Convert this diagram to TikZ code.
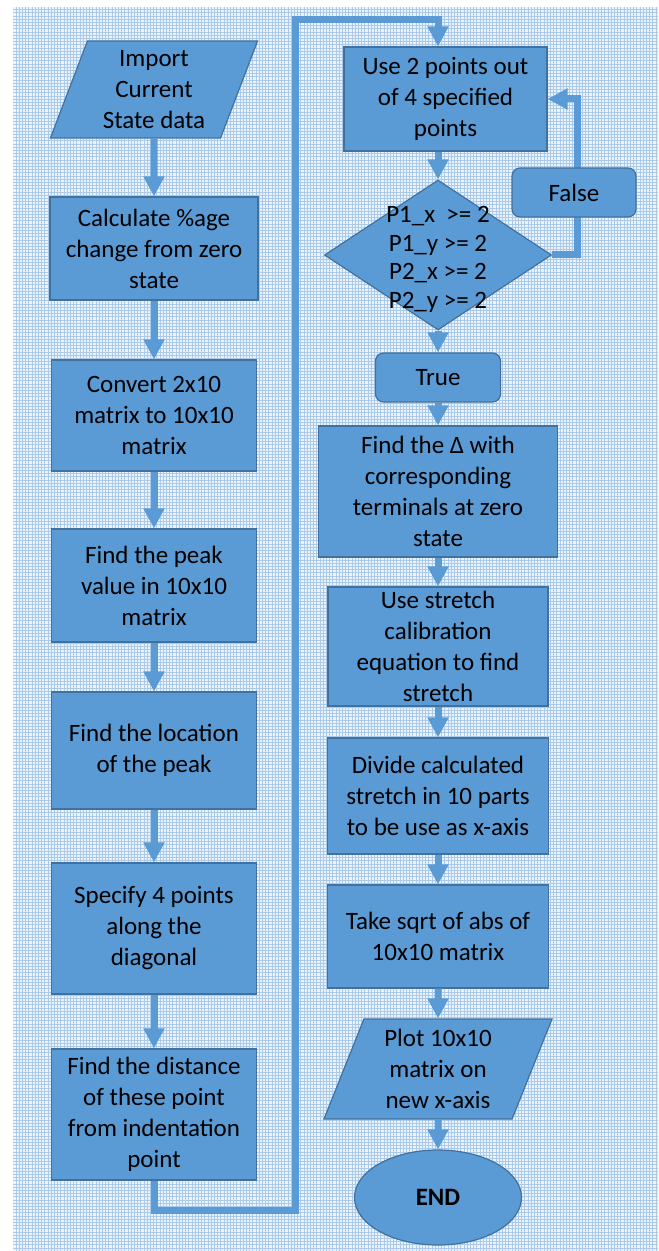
\documentclass[tikz,border=0pt]{standalone}
\usepackage{xcolor}
\usepackage{fontspec}
\setmainfont{Carlito}
\usepackage{tikz}
\usetikzlibrary{shapes.geometric,arrows.meta}

\definecolor{boxblue}{RGB}{91,155,213}
\definecolor{edgeblue}{RGB}{65,113,156}
\definecolor{gridblue}{RGB}{170,202,235}
\definecolor{paperblue}{RGB}{236,243,251}

\begin{document}
\begin{tikzpicture}[x=0.5pt,y=-0.5pt,
							every node/.style={fill=boxblue,draw=edgeblue,line width=0.6pt,inner sep=0pt,align=center,font=\fontsize{12.5}{15.5}\selectfont},
							process/.style={rectangle},
							inout/.style={trapezium,trapezium left angle=70,trapezium right angle=110,trapezium stretches=true},
							decision/.style={diamond},
							answer/.style={rectangle,rounded corners=4pt},
							stop/.style={ellipse},
							conn/.style={draw=boxblue,line width=3.5pt,-{Triangle[width=10pt,length=10pt]}}]
			\useasboundingbox (0,0) rectangle (658,1251);
			\fill[paperblue] (13,7) rectangle (658,1251);
			\draw[gridblue,line width=0.4pt,step=1.6pt] (13,1251) grid (658,7);
			\node[inout,minimum width=104pt,minimum height=48.5pt] (imp) at (154,89.5) {Import\\Current\\State data};
			\node[process,minimum width=104pt,minimum height=51.5pt] (calc) at (154,248.5) {Calculate \%age\\change from zero\\state};
			\node[process,minimum width=102.5pt,minimum height=55.5pt] (conv) at (154,415.5) {Convert 2x10\\matrix to 10x10\\matrix};
			\node[process,minimum width=102.5pt,minimum height=56.5pt] (peak) at (154,585.5) {Find the peak\\value in 10x10\\matrix};
			\node[process,minimum width=102.5pt,minimum height=58.5pt] (loc) at (154,750.5) {Find the location\\of the peak};
			\node[process,minimum width=102.5pt,minimum height=65.5pt] (spec) at (154,928.5) {Specify 4 points\\along the\\diagonal};
			\node[process,minimum width=102.5pt,minimum height=65.5pt] (dist) at (154,1114.5) {Find the distance\\of these point\\from indentation\\point};
			\node[process,minimum width=101.5pt,minimum height=52pt] (use2) at (445.5,99) {Use 2 points out\\of 4 specified\\points};
			\node[decision,minimum width=113.5pt,minimum height=75pt] (cond) at (438,255) {\smash{\raisebox{-5.5pt}{\makebox[0pt]{\fontsize{12.5}{14.25}\selectfont\begin{tabular}{@{}c@{}}P1\_x\ \ >= 2\\P1\_y >= 2\\P2\_x >= 2\\P2\_y >= 2\end{tabular}}}}};
			\coordinate (lowleft) at (154,1210);
			\coordinate (topbend) at (295,20);
			\draw[conn] (cond.east) -- ++(25,0) |- (use2.east);
			\node[answer,minimum width=62pt,minimum height=24.5pt] (false) at (574,192.5) {False};
			\node[answer,minimum width=62.5pt,minimum height=24.5pt] (true) at (438,377.5) {True};
			\node[process,minimum width=119.5pt,minimum height=65.5pt] (delta) at (438,491.5) {Find the Δ with\\corresponding\\terminals at zero\\state};
			\node[process,minimum width=110pt,minimum height=59.5pt] (stretch) at (438,646.5) {Use stretch\\calibration\\equation to find\\stretch};
			\node[process,minimum width=110.5pt,minimum height=58pt] (divide) at (438,796) {Divide calculated\\stretch in 10 parts\\to be use as x-axis};
			\node[process,minimum width=110.5pt,minimum height=51.5pt] (sqrt) at (438,936.5) {Take sqrt of abs of\\10x10 matrix};
			\node[inout,minimum width=114pt,minimum height=50pt] (plot) at (438,1069) {Plot 10x10\\matrix on\\new x-axis};
			\node[stop,minimum width=83.5pt,minimum height=47.5pt] (endn) at (438,1197.5) {\textbf{END}};
			\foreach \a/\b in {imp/calc,calc/conv,conv/peak,peak/loc,loc/spec,spec/dist,cond/true,true/delta,delta/stretch,stretch/divide,divide/sqrt,sqrt/plot,plot/endn}
				\draw[conn] (\a) -- (\b);
			\draw[conn] (use2.south -| cond.north) -- (cond.north);
			\draw[conn] (dist.south) -- (lowleft) -| (topbend) -| (use2.north -| cond.north);
		\end{tikzpicture}
\end{document}
